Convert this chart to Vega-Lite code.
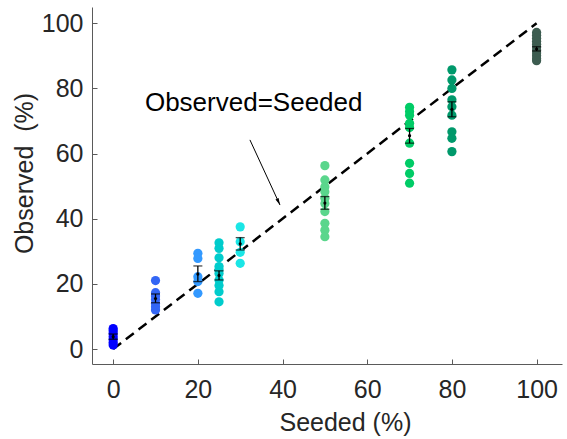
{
  "$schema": "https://vega.github.io/schema/vega-lite/v6.json",
  "width": 470,
  "height": 357,
  "autosize": {"type": "none"},
  "padding": {"left": 92, "top": 7, "right": 5, "bottom": 75},
  "config": {
    "view": {"stroke": null},
    "font": "Liberation Sans",
    "axis": {
      "grid": false,
      "domainColor": "#5a5a5a",
      "domainWidth": 1,
      "tickColor": "#5a5a5a",
      "tickWidth": 1,
      "tickSize": -5,
      "labelFont": "Liberation Sans",
      "labelFontSize": 25,
      "labelColor": "#262626",
      "titleFont": "Liberation Sans",
      "titleFontSize": 25,
      "titleFontWeight": "normal",
      "titleColor": "#262626"
    }
  },
  "datasets": {
    "pts": [
      {"s": 0, "g": "0", "o": 6.3}, {"s": 0, "g": "0", "o": 5.6}, {"s": 0, "g": "0", "o": 4.8}, {"s": 0, "g": "0", "o": 3.8}, {"s": 0, "g": "0", "o": 2.9}, {"s": 0, "g": "0", "o": 2.0}, {"s": 0, "g": "0", "o": 1.2},
      {"s": 10, "g": "10", "o": 21.0}, {"s": 10, "g": "10", "o": 17.3}, {"s": 10, "g": "10", "o": 16.3}, {"s": 10, "g": "10", "o": 15.2}, {"s": 10, "g": "10", "o": 14.0}, {"s": 10, "g": "10", "o": 13.0}, {"s": 10, "g": "10", "o": 12.0},
      {"s": 20, "g": "20", "o": 29.4}, {"s": 20, "g": "20", "o": 27.8}, {"s": 20, "g": "20", "o": 22.2}, {"s": 20, "g": "20", "o": 20.7}, {"s": 20, "g": "20", "o": 17.1},
      {"s": 25, "g": "25", "o": 32.6}, {"s": 25, "g": "25", "o": 30.9}, {"s": 25, "g": "25", "o": 28.0}, {"s": 25, "g": "25", "o": 25.3}, {"s": 25, "g": "25", "o": 24.3}, {"s": 25, "g": "25", "o": 23.2}, {"s": 25, "g": "25", "o": 21.2}, {"s": 25, "g": "25", "o": 19.5}, {"s": 25, "g": "25", "o": 17.6}, {"s": 25, "g": "25", "o": 14.5},
      {"s": 30, "g": "30", "o": 37.5}, {"s": 30, "g": "30", "o": 32.9}, {"s": 30, "g": "30", "o": 29.7}, {"s": 30, "g": "30", "o": 26.3},
      {"s": 50, "g": "50", "o": 56.3}, {"s": 50, "g": "50", "o": 51.9}, {"s": 50, "g": "50", "o": 49.8}, {"s": 50, "g": "50", "o": 48.3}, {"s": 50, "g": "50", "o": 46.3}, {"s": 50, "g": "50", "o": 44.7}, {"s": 50, "g": "50", "o": 42.2}, {"s": 50, "g": "50", "o": 38.6}, {"s": 50, "g": "50", "o": 36.5}, {"s": 50, "g": "50", "o": 34.5},
      {"s": 70, "g": "70", "o": 74.2}, {"s": 70, "g": "70", "o": 72.9}, {"s": 70, "g": "70", "o": 71.8}, {"s": 70, "g": "70", "o": 69.3}, {"s": 70, "g": "70", "o": 68.0}, {"s": 70, "g": "70", "o": 63.2}, {"s": 70, "g": "70", "o": 57.0}, {"s": 70, "g": "70", "o": 53.9}, {"s": 70, "g": "70", "o": 50.9},
      {"s": 80, "g": "80", "o": 85.7}, {"s": 80, "g": "80", "o": 82.6}, {"s": 80, "g": "80", "o": 80.0}, {"s": 80, "g": "80", "o": 76.5}, {"s": 80, "g": "80", "o": 74.4}, {"s": 80, "g": "80", "o": 71.8}, {"s": 80, "g": "80", "o": 66.7}, {"s": 80, "g": "80", "o": 64.7}, {"s": 80, "g": "80", "o": 60.6},
      {"s": 100, "g": "100", "o": 97.2}, {"s": 100, "g": "100", "o": 96.3}, {"s": 100, "g": "100", "o": 95.4}, {"s": 100, "g": "100", "o": 94.5}, {"s": 100, "g": "100", "o": 93.6}, {"s": 100, "g": "100", "o": 92.7}, {"s": 100, "g": "100", "o": 91.8}, {"s": 100, "g": "100", "o": 90.9}, {"s": 100, "g": "100", "o": 90.0}, {"s": 100, "g": "100", "o": 89.1}, {"s": 100, "g": "100", "o": 88.5}
    ],
    "err": [
      {"s": 0, "m": 3.8, "lo": 3.0, "hi": 4.6},
      {"s": 10, "m": 15.5, "lo": 14.2, "hi": 16.9},
      {"s": 20, "m": 23.0, "lo": 20.7, "hi": 25.5},
      {"s": 25, "m": 22.6, "lo": 21.2, "hi": 24.0},
      {"s": 30, "m": 32.3, "lo": 30.4, "hi": 34.2},
      {"s": 50, "m": 44.8, "lo": 42.9, "hi": 46.8},
      {"s": 70, "m": 65.5, "lo": 63.2, "hi": 67.7},
      {"s": 80, "m": 73.6, "lo": 71.3, "hi": 75.9},
      {"s": 100, "m": 92.1, "lo": 91.5, "hi": 92.8}
    ],
    "diag": [{"x": 0, "y": 0, "x2": 100, "y2": 100}],
    "arrow": [{"x": 32.3, "y": 64.2, "x2": 39.4, "y2": 44.2}],
    "label": [{"x": 7.5, "y": 73.2, "t": "Observed=Seeded"}]
  },
  "layer": [
    {
      "data": {"name": "diag"},
      "mark": {"type": "rule", "color": "black", "strokeWidth": 2.5, "strokeDash": [10, 6]},
      "encoding": {
        "x": {"field": "x", "type": "quantitative", "scale": {"domain": [-5, 106], "nice": false, "zero": false},
              "axis": {"values": [0, 20, 40, 60, 80, 100], "labelPadding": 18, "title": "Seeded (%)", "titleX": 253, "titleY": 58, "titleBaseline": "middle"}},
        "y": {"field": "y", "type": "quantitative", "scale": {"domain": [-4.6, 105], "nice": false, "zero": false},
              "axis": {"values": [0, 20, 40, 60, 80, 100], "labelPadding": 14, "title": "Observed \u00a0(%)", "titleX": -68, "titleY": 166, "titleBaseline": "middle"}},
        "x2": {"field": "x2"},
        "y2": {"field": "y2"}
      }
    },
    {
      "data": {"name": "pts"},
      "mark": {"type": "point", "filled": true, "opacity": 1, "size": 85, "shape": "circle"},
      "encoding": {
        "x": {"field": "s", "type": "quantitative", "title": "Seeded (%)"},
        "y": {"field": "o", "type": "quantitative", "title": "Observed \u00a0(%)"},
        "color": {"field": "g", "type": "nominal", "legend": null,
                  "scale": {"domain": ["0", "10", "20", "25", "30", "50", "70", "80", "100"],
                            "range": ["#0000ff", "#3366f5", "#3399ff", "#00cccc", "#1ae6e6", "#5ad68c", "#00cc66", "#00996b", "#3d5c50"]}}
      }
    },
    {
      "data": {"name": "err"},
      "mark": {"type": "rule", "color": "black", "strokeWidth": 1.3},
      "encoding": {
        "x": {"field": "s", "type": "quantitative", "title": "Seeded (%)"},
        "y": {"field": "lo", "type": "quantitative", "title": "Observed \u00a0(%)"},
        "y2": {"field": "hi"}
      }
    },
    {
      "data": {"name": "err"},
      "mark": {"type": "tick", "color": "black", "orient": "horizontal", "size": 9, "thickness": 1.3},
      "encoding": {
        "x": {"field": "s", "type": "quantitative", "title": "Seeded (%)"},
        "y": {"field": "lo", "type": "quantitative", "title": "Observed \u00a0(%)"}
      }
    },
    {
      "data": {"name": "err"},
      "mark": {"type": "tick", "color": "black", "orient": "horizontal", "size": 9, "thickness": 1.3},
      "encoding": {
        "x": {"field": "s", "type": "quantitative", "title": "Seeded (%)"},
        "y": {"field": "hi", "type": "quantitative", "title": "Observed \u00a0(%)"}
      }
    },
    {
      "data": {"name": "err"},
      "mark": {"type": "point", "filled": true, "color": "black", "size": 10, "opacity": 1},
      "encoding": {
        "x": {"field": "s", "type": "quantitative", "title": "Seeded (%)"},
        "y": {"field": "m", "type": "quantitative", "title": "Observed \u00a0(%)"}
      }
    },
    {
      "data": {"name": "arrow"},
      "mark": {"type": "rule", "color": "black", "strokeWidth": 1},
      "encoding": {
        "x": {"field": "x", "type": "quantitative", "title": "Seeded (%)"},
        "y": {"field": "y", "type": "quantitative", "title": "Observed \u00a0(%)"},
        "x2": {"field": "x2"},
        "y2": {"field": "y2"}
      }
    },
    {
      "data": {"name": "arrow"},
      "mark": {"type": "point", "filled": true, "color": "black", "opacity": 1, "size": 49, "angle": 335, "shape": "M0,0 L-0.5,-2 L0.5,-2 Z"},
      "encoding": {
        "x": {"field": "x2", "type": "quantitative", "title": "Seeded (%)"},
        "y": {"field": "y2", "type": "quantitative", "title": "Observed \u00a0(%)"}
      }
    },
    {
      "data": {"name": "label"},
      "mark": {"type": "text", "align": "left", "baseline": "alphabetic", "fontSize": 26, "font": "Liberation Sans", "color": "black"},
      "encoding": {
        "x": {"field": "x", "type": "quantitative", "title": "Seeded (%)"},
        "y": {"field": "y", "type": "quantitative", "title": "Observed \u00a0(%)"},
        "text": {"field": "t"}
      }
    }
  ]
}
